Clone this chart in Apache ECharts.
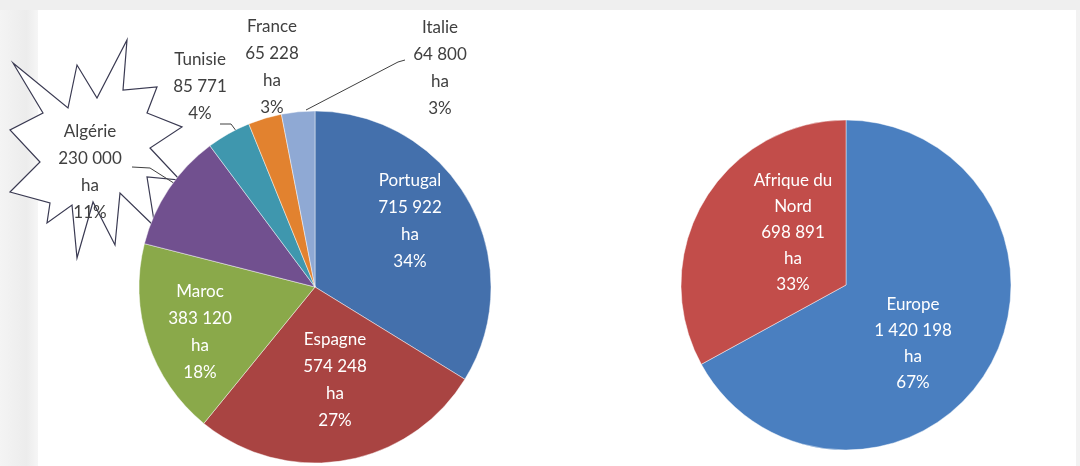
<!DOCTYPE html>
<html>
<head>
<meta charset="utf-8">
<script src="https://cdn.jsdelivr.net/npm/echarts@6/dist/echarts.min.js"></script>
<style>
  html, body { margin: 0; padding: 0; background: #ffffff; }
  #chart { width: 1080px; height: 466px; }
</style>
</head>
<body>
<div id="chart"></div>
<script>
// Surfaces cultivées (ha) par pays
const countries = ['Portugal', 'Espagne', 'Maroc', 'Algérie', 'Tunisie', 'France', 'Italie'];
const countryAreas = [715922, 574248, 383120, 230000, 85771, 65228, 64800];
const countryColors = ['#4470ac', '#a94442', '#8aa94a', '#71508f', '#3f97ae', '#e2822f', '#8fa9d4'];

// Regroupement par région
const regions = ['Europe', 'Afrique du\nNord'];
const regionAreas = [1420198, 698891];
const regionColors = ['#4a7fc0', '#c24d4a'];

// Labels written without the unit line
const noUnit = ['Tunisie'];

const fmt = v => String(v).replace(/\B(?=(\d{3})+(?!\d))/g, ' ');

function labelText(p) {
  const lines = [p.name, fmt(p.value)];
  if (noUnit.indexOf(p.name) < 0) lines.push('ha');
  lines.push(Math.round(p.percent) + '%');
  return lines.join('\n');
}

// Label anchor points (block centres) and leader lines
const leftLabelPos = {
  'Portugal': [410, 221],
  'Espagne': [335, 380],
  'Maroc': [200, 332],
  'Algérie': [90, 172],
  'Tunisie': [200, 87],
  'France': [272, 67],
  'Italie': [440, 68]
};
const leftLeaders = {
  'Algérie': [[180, 187], [150, 168], [132, 167]],
  'Tunisie': [[237, 132], [231, 124], [220, 124]],
  'Italie': [[306, 110], [398, 62], [405, 60]]
};
const rightLabelPos = { 'Europe': [913, 344], 'Afrique du\nNord': [793, 233] };

const outside = ['Algérie', 'Tunisie', 'France', 'Italie'];

const leftData = countries.map((n, i) => ({
  name: n,
  value: countryAreas[i],
  itemStyle: { color: countryColors[i] },
  label: outside.indexOf(n) >= 0
    ? { position: 'outside', color: '#404040' }
    : { position: 'inside', color: '#ffffff' },
  labelLine: { show: leftLeaders[n] !== undefined }
}));

const rightData = regions.map((n, i) => ({
  name: n,
  value: regionAreas[i],
  itemStyle: { color: regionColors[i] }
}));

// Starburst callout drawn behind the Algérie label
const burst = [[13,63],[68,108],[77,65],[97,98],[127,40],[123,90],[157,87],[147,113],[182,127],
  [150,148],[180,180],[147,177],[155,227],[120,193],[115,245],[93,202],[77,258],[72,205],
  [47,223],[50,203],[10,192],[40,162],[10,130],[43,113]];

const textFont = { fontFamily: 'Lato, "Open Sans", sans-serif', fontSize: 17, lineHeight: 27 };

const chart = echarts.init(document.getElementById('chart'), null, { renderer: 'canvas' });
chart.setOption({
  animation: false,
  backgroundColor: '#ffffff',
  graphic: [
    { type: 'rect', z: 0, shape: { x: 0, y: 0, width: 1080, height: 10 }, style: { fill: '#efefef' } },
    { type: 'rect', z: 0, shape: { x: 0, y: 10, width: 38, height: 456 },
      style: { fill: new echarts.graphic.LinearGradient(0, 0, 1, 0, [
        { offset: 0, color: '#f4f4f4' }, { offset: 0.7, color: '#ececec' }, { offset: 1, color: '#f6f6f6' }]) } },
    { type: 'rect', z: 0, shape: { x: 1076, y: 10, width: 4, height: 456 }, style: { fill: '#f2f2f2' } },
    { type: 'polygon', z: 1, shape: { points: burst },
      style: { fill: '#ffffff', stroke: '#3a3a52', lineWidth: 1.2 } }
  ],
  series: [
    {
      type: 'pie',
      center: [315, 287],
      radius: 176,
      startAngle: 90,
      clockwise: true,
      avoidLabelOverlap: false,
      data: leftData,
      itemStyle: { borderColor: 'rgba(255,255,255,0.45)', borderWidth: 1 },
      label: Object.assign({ formatter: labelText, align: 'center' }, textFont),
      labelLine: { lineStyle: { color: '#404040', width: 1 } },
      labelLayout: function (p) {
        const name = countries[p.dataIndex];
        const pos = leftLabelPos[name];
        const out = { x: pos[0], y: pos[1], align: 'center', verticalAlign: 'middle' };
        if (leftLeaders[name]) out.labelLinePoints = leftLeaders[name];
        return out;
      },
      emphasis: { disabled: true }
    },
    {
      type: 'pie',
      center: [846, 285],
      radius: 165,
      startAngle: 90,
      clockwise: true,
      data: rightData,
      itemStyle: { borderColor: 'rgba(255,255,255,0.45)', borderWidth: 1 },
      label: Object.assign({ position: 'inside', color: '#ffffff', formatter: labelText, align: 'center' },
        textFont, { lineHeight: 26 }),
      labelLine: { show: false },
      labelLayout: function (p) {
        const pos = rightLabelPos[regions[p.dataIndex]];
        return { x: pos[0], y: pos[1], align: 'center', verticalAlign: 'middle' };
      },
      emphasis: { disabled: true }
    }
  ]
});
</script>
</body>
</html>
